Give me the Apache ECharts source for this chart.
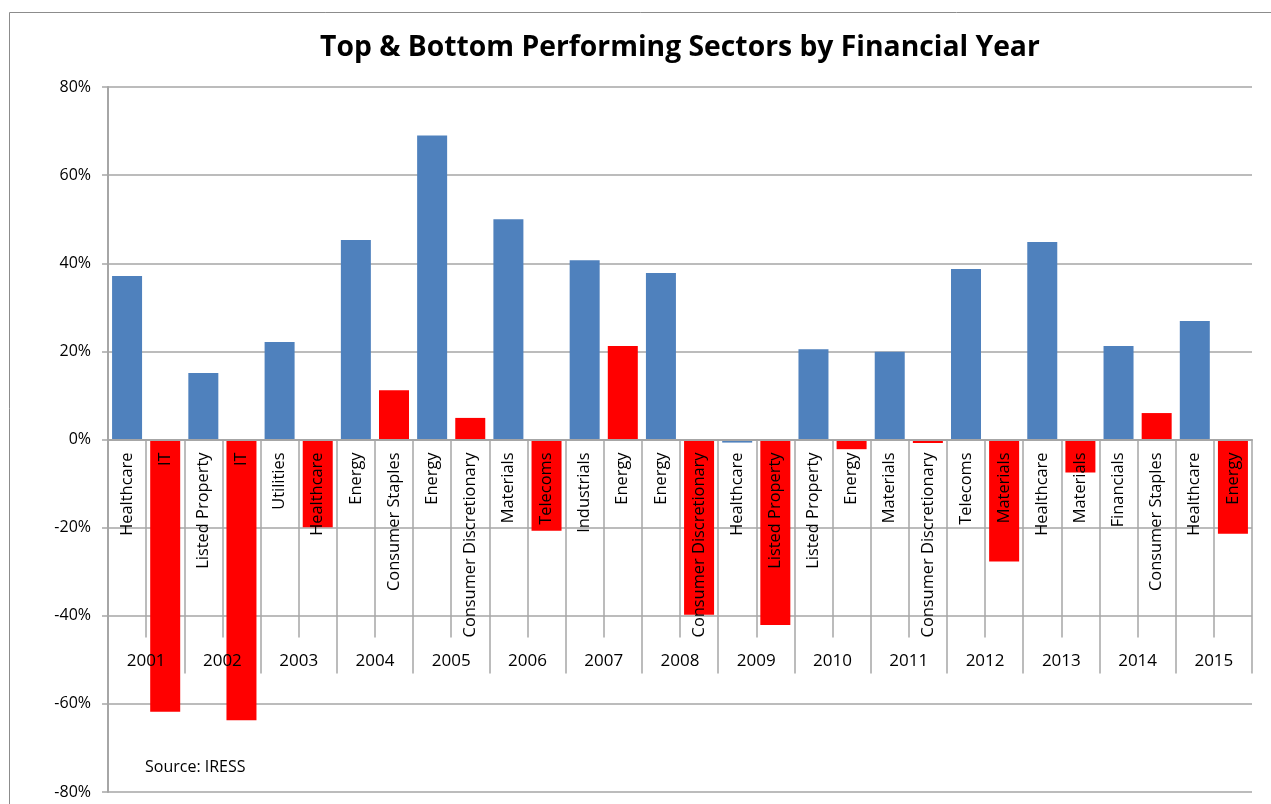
<!DOCTYPE html>
<html>
<head>
<meta charset="utf-8">
<script src="https://cdn.jsdelivr.net/npm/echarts@6/dist/echarts.min.js"></script>
<style>
  html, body { margin: 0; padding: 0; background: #ffffff; }
  #chart { width: 1271px; height: 804px; }
</style>
</head>
<body>
<div id="chart"></div>
<script>
// ---- Data ----
const years = ['2001','2002','2003','2004','2005','2006','2007','2008','2009','2010','2011','2012','2013','2014','2015'];
const topSectors = ['Healthcare','Listed Property','Utilities','Energy','Energy','Materials','Industrials','Energy','Healthcare','Listed Property','Materials','Telecoms','Healthcare','Financials','Healthcare'];
const topValues = [37.1, 15.1, 22.1, 45.3, 69.0, 50.0, 40.7, 37.8, -0.7, 20.5, 19.9, 38.7, 44.8, 21.2, 26.9];
const bottomSectors = ['IT','IT','Healthcare','Consumer Staples','Consumer Discretionary','Telecoms','Energy','Consumer Discretionary','Listed Property','Energy','Consumer Discretionary','Materials','Materials','Consumer Staples','Energy'];
const bottomValues = [-61.8, -63.7, -19.9, 11.2, 4.9, -20.7, 21.2, -39.8, -42.1, -2.2, -0.8, -27.7, -7.5, 6.0, -21.4];
const yTicks = [-80, -60, -40, -20, 0, 20, 40, 60, 80];

// Interleave: each year has a top slot followed by a bottom slot
const slotLabels = [];
const topSeries = [];
const bottomSeries = [];
years.forEach((y, i) => {
  slotLabels.push(topSectors[i]);
  slotLabels.push(bottomSectors[i]);
  topSeries.push(topValues[i]);
  topSeries.push(null);
  bottomSeries.push(null);
  bottomSeries.push(bottomValues[i]);
});
const slotKeys = slotLabels.map((s, i) => i + '|' + s);

const FONT = '"Open Sans", "Noto Sans", sans-serif';
const GRID_COLOR = '#a6a6a6';
const GRID_TOP = 87, GRID_BOTTOM_Y = 792;
const Y_MIN = -80, Y_MAX = 80;
// distance from grid bottom edge up to the 0% line (axis offset, derived from the scale)
const zeroOffset = -(GRID_BOTTOM_Y - GRID_TOP) * (0 - Y_MIN) / (Y_MAX - Y_MIN);

const chart = echarts.init(document.getElementById('chart'), null, { renderer: 'canvas' });
chart.setOption({
  animation: false,
  backgroundColor: '#ffffff',
  title: {
    text: 'Top & Bottom Performing Sectors by Financial Year',
    left: 315,
    top: 29,
    textStyle: { fontFamily: FONT, fontSize: 28.3, fontWeight: 'bold', color: '#000000' }
  },
  graphic: [
    { type: 'rect', left: 7, top: 10, shape: { width: 1280, height: 820 }, style: { fill: 'none', stroke: '#8c8c8c', lineWidth: 1 }, silent: true, z: -1 },
    { type: 'text', left: 145, top: 759, style: { text: 'Source: IRESS', fontFamily: FONT, fontSize: 16, fill: '#000000' }, z: 20 }
  ],
  grid: { left: 108, right: 19, top: GRID_TOP, bottom: 804 - GRID_BOTTOM_Y, containLabel: false, outerBoundsMode: 'none' },
  xAxis: [
    {
      type: 'category',
      data: slotKeys,
      position: 'bottom',
      offset: zeroOffset,
      z: 10,
      axisLine: { show: true, onZero: false, lineStyle: { color: GRID_COLOR, width: 2 } },
      axisTick: { show: true, interval: 0, length: 198, lineStyle: { color: GRID_COLOR, width: 1.5 } },
      axisLabel: {
        interval: 0,
        rotate: 90,
        margin: 13,
        fontFamily: FONT,
        fontSize: 16.4,
        color: '#000000',
        hideOverlap: false,
        formatter: v => v.split('|')[1]
      },
      splitLine: { show: false }
    },
    {
      type: 'category',
      data: years,
      position: 'bottom',
      offset: zeroOffset,
      z: 10,
      axisLine: { show: false, onZero: false },
      axisTick: { show: true, interval: 0, length: 234, lineStyle: { color: GRID_COLOR, width: 1.5 } },
      axisLabel: { interval: 0, margin: 213, fontFamily: FONT, fontSize: 17, color: '#000000' },
      splitLine: { show: false }
    }
  ],
  yAxis: {
    type: 'value',
    min: Y_MIN,
    max: Y_MAX,
    interval: 20,
    axisLine: { show: true, lineStyle: { color: GRID_COLOR, width: 2 } },
    axisTick: { show: true, length: 6, lineStyle: { color: GRID_COLOR, width: 1.5 } },
    axisLabel: { margin: 17, fontFamily: FONT, fontSize: 16, color: '#000000', formatter: v => yTicks.includes(v) ? v + '%' : '' },
    splitLine: { show: true, lineStyle: { color: GRID_COLOR, width: 1.5 } }
  },
  series: [
    {
      name: 'Top',
      type: 'bar',
      xAxisIndex: 0,
      data: topSeries,
      barWidth: 30,
      barGap: '-100%',
      itemStyle: { color: '#4f81bd' }
    },
    {
      name: 'Bottom',
      type: 'bar',
      xAxisIndex: 0,
      data: bottomSeries,
      barWidth: 30,
      barGap: '-100%',
      itemStyle: { color: '#ff0000' }
    }
  ]
});
</script>
</body>
</html>
